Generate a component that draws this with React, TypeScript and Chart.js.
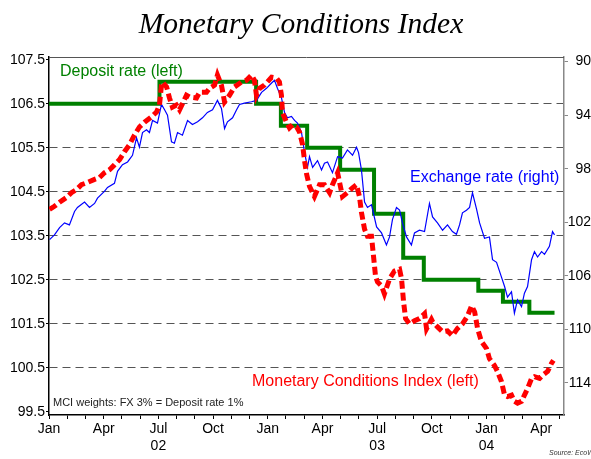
import React, { useEffect, useRef } from "react";
import { Chart, registerables } from "chart.js";

Chart.register(...registerables);

// x = months since Jan 2002
const xTickMonths = Array.from({ length: 29 }, (_, i) => i);
const xTickLabels: Record<number, string[]> = {
  0: ["Jan"], 3: ["Apr"], 6: ["Jul", "02"], 9: ["Oct"],
  12: ["Jan"], 15: ["Apr"], 18: ["Jul", "03"], 21: ["Oct"],
  24: ["Jan", "04"], 27: ["Apr"],
};
const leftTicks = [99.5, 100.5, 101.5, 102.5, 103.5, 104.5, 105.5, 106.5, 107.5];
const rightTicks = [90, 94, 98, 102, 106, 110, 114];

// Deposit rate (left axis, 100 + rate)
const depositMonths = [0, 6.06, 11.36, 12.72, 14.16, 15.97, 17.83, 19.43, 20.56, 23.55, 24.9, 26.35, 27.73];
const depositValues = [106.5, 107, 106.5, 106, 105.5, 105, 104, 103, 102.5, 102.25, 102, 101.75, 101.75];

// Exchange rate (right axis, inverted)
const fxMonths = [0.03,0.30,0.58,0.85,1.12,1.40,1.56,1.95,2.22,2.50,2.66,3.04,3.21,3.59,3.76,4.03,4.31,4.58,4.80,4.96,5.13,5.35,5.51,5.68,5.95,6.17,6.34,6.50,6.72,6.88,7.05,7.32,7.60,7.87,8.15,8.42,8.69,8.97,9.24,9.46,9.63,9.79,10.07,10.29,10.45,10.72,11.11,11.38,11.66,11.93,12.21,12.37,12.53,12.75,12.92,13.08,13.30,13.47,13.63,13.85,14.02,14.18,14.29,14.46,14.73,14.95,15.11,15.28,15.55,15.83,16.10,16.37,16.65,16.87,16.98,17.14,17.31,17.47,17.69,17.97,18.24,18.51,18.68,18.84,19.06,19.23,19.39,19.61,19.88,20.05,20.32,20.60,20.87,21.04,21.31,21.59,21.86,22.13,22.35,22.52,22.68,22.90,23.07,23.23,23.45,23.62,23.89,24.16,24.33,24.55,24.82,24.99,25.15,25.37,25.53,25.70,25.92,26.08,26.25,26.47,26.63,26.80,27.02,27.18,27.45,27.62,27.73];
const fxValues = [103.3,102.95,102.4,102.05,102.2,101.2,100.9,100.5,100.9,100.6,100.2,99.7,99.4,99.1,98.2,97.7,97.5,97.0,95.7,96.4,95.3,95.1,95.3,94.4,94.6,93.2,93.6,94.0,96.0,96.1,95.3,95.5,94.4,94.7,94.5,94.2,93.8,93.6,92.9,93.5,95.0,94.5,94.2,93.6,93.2,93.1,93.0,92.9,92.3,92.0,91.6,91.4,92.0,92.7,93.8,94.2,94.1,94.4,94.6,95.3,96.8,97.9,97.1,97.9,97.4,98.1,97.6,97.5,98.3,97.1,97.2,96.6,97.0,96.4,96.8,98.1,100.5,100.9,100.7,102.35,102.8,103.7,103.1,101.8,100.9,101.1,102.05,103.1,103.7,102.8,102.6,102.7,100.6,101.6,102.05,102.6,102.2,102.7,102.9,102.2,101.3,101.1,100.9,99.8,101.0,102.05,103.2,103.1,104.8,105.0,106.1,106.8,107.6,107.2,108.8,107.8,108.3,107.3,106.8,104.8,104.2,104.6,104.2,104.4,103.8,102.7,102.95];

// Monetary Conditions Index (left axis)
const mciMonths = [0.03,0.30,0.58,0.96,1.23,1.51,1.78,2.11,2.50,2.77,3.04,3.32,3.59,3.87,4.14,4.42,4.69,4.96,5.24,5.62,5.90,6.06,6.17,6.23,6.45,6.61,6.77,6.99,7.16,7.54,7.71,8.09,8.26,8.64,8.81,9.08,9.24,9.46,9.63,9.90,10.18,10.56,10.83,11.11,11.27,11.38,11.55,11.82,12.21,12.48,12.64,12.75,12.81,13.03,13.19,13.36,13.58,13.74,13.91,14.02,14.13,14.29,14.56,14.84,15.11,15.39,15.55,15.83,15.94,16.10,16.37,16.65,16.87,17.03,17.14,17.31,17.47,17.69,17.80,17.91,18.02,18.24,18.40,18.68,18.95,19.23,19.34,19.45,19.56,19.77,20.05,20.32,20.60,20.71,20.98,21.04,21.31,21.59,21.86,22.13,22.40,22.68,22.96,23.18,23.35,23.51,23.72,24.00,24.16,24.44,24.60,24.82,24.99,25.15,25.37,25.53,25.70,25.92,26.08,26.25,26.47,26.63,26.91,27.07,27.35,27.56,27.67];
const mciValues = [104.10,104.17,104.26,104.37,104.48,104.55,104.66,104.71,104.78,104.82,104.93,105.00,105.11,105.23,105.41,105.57,105.79,105.97,106.08,106.20,106.31,106.47,106.92,106.99,106.88,106.63,106.42,106.47,106.36,106.69,106.65,106.63,106.76,106.76,106.85,106.92,107.15,106.92,106.54,106.69,106.88,106.99,107.03,107.15,107.03,106.69,106.85,106.92,107.10,107.08,106.99,106.69,106.29,106.08,105.95,106.02,105.97,105.86,105.57,105.2,104.9,104.62,104.39,104.66,104.66,104.48,104.66,104.93,104.71,104.39,104.48,104.59,104.66,104.39,104.03,103.65,103.49,103.49,103.04,102.59,102.45,102.36,102.18,102.52,102.70,102.74,102.52,102.00,101.62,101.50,101.57,101.62,101.73,101.39,101.6,101.55,101.43,101.32,101.34,101.23,101.39,101.50,101.68,101.91,101.77,101.39,101.10,100.94,100.71,100.55,100.42,100.19,99.88,99.85,99.88,99.74,99.70,99.74,99.88,100.03,100.26,100.30,100.26,100.33,100.42,100.60,100.67];

const toXY = (xs: number[], ys: number[]) => xs.map((x, i) => ({ x, y: ys[i] }));

const textPlugin = {
  id: "texts",
  afterDraw(chart: any) {
    const { ctx, chartArea } = chart;
    ctx.save();
    // top border
    ctx.strokeStyle = "#555";
    ctx.lineWidth = 1;
    ctx.setLineDash([]);
    ctx.beginPath();
    ctx.moveTo(chartArea.left, chartArea.top + 0.5);
    ctx.lineTo(chartArea.right, chartArea.top + 0.5);
    ctx.stroke();

    ctx.textBaseline = "alphabetic";
    ctx.textAlign = "center";
    ctx.fillStyle = "#000";
    ctx.font = 'italic 29.5px "Liberation Serif", "Times New Roman", serif';
    ctx.fillText("Monetary Conditions Index", 301, 33);

    ctx.textAlign = "left";
    ctx.font = '16px "Liberation Sans", Arial, sans-serif';
    ctx.fillStyle = "#008000";
    ctx.fillText("Deposit rate (left)", 60, 76);
    ctx.fillStyle = "#0000ff";
    ctx.fillText("Exchange rate (right)", 410, 182);
    ctx.fillStyle = "#ff0000";
    ctx.fillText("Monetary Conditions Index (left)", 252, 386);

    ctx.fillStyle = "#222";
    ctx.font = '11px "Liberation Sans", Arial, sans-serif';
    ctx.fillText("MCI weights: FX 3% = Deposit rate 1%", 53, 406);

    ctx.fillStyle = "#333";
    ctx.font = 'italic 7px "Liberation Sans", Arial, sans-serif';
    ctx.fillText("Source: EcoWin", 549, 455);
    ctx.restore();
  },
};

export default function App() {
  const ref = useRef<HTMLCanvasElement | null>(null);

  useEffect(() => {
    document.body.style.margin = "0";
    const canvas = ref.current;
    if (!canvas) return;
    Chart.defaults.font.family = '"Liberation Sans", Arial, sans-serif';
    const chart = new Chart(canvas, {
      type: "line",
      data: {
        datasets: [
          {
            label: "Monetary Conditions Index (left)",
            data: toXY(mciMonths, mciValues),
            yAxisID: "y",
            borderColor: "#ff0000",
            borderWidth: 5,
            borderDash: [8, 4],
            borderCapStyle: "butt",
            pointRadius: 0,
            order: 0,
          },
          {
            label: "Exchange rate (right)",
            data: toXY(fxMonths, fxValues),
            yAxisID: "y1",
            borderColor: "#0000ff",
            borderWidth: 1.2,
            pointRadius: 0,
            order: 1,
          },
          {
            label: "Deposit rate (left)",
            data: toXY(depositMonths, depositValues),
            yAxisID: "y",
            borderColor: "#008000",
            borderWidth: 4,
            stepped: "before",
            pointRadius: 0,
            order: 2,
          },
        ],
      },
      options: {
        animation: false,
        responsive: false,
        layout: { padding: { top: 57, left: 0, right: 0, bottom: 0 } },
        plugins: { legend: { display: false }, tooltip: { enabled: false } },
        scales: {
          x: {
            type: "linear",
            min: 0,
            max: 28.25,
            afterBuildTicks: (s: any) => {
              s.ticks = xTickMonths.map((v) => ({ value: v }));
            },
            afterFit: (s: any) => {
              s.height = 44;
            },
            ticks: {
              autoSkip: false,
              maxRotation: 0,
              padding: 2,
              color: "#000",
              font: { size: 14 },
              callback: (v: any) => xTickLabels[Math.round(v)] || "",
            },
            grid: {
              drawOnChartArea: false,
              drawTicks: true,
              tickLength: 4,
              tickColor: "#000",
            },
            border: { display: true, color: "#000", width: 1.5 },
          },
          y: {
            type: "linear",
            position: "left",
            min: 99.43,
            max: 107.56,
            afterBuildTicks: (s: any) => {
              s.ticks = leftTicks.map((v) => ({ value: v }));
            },
            afterFit: (s: any) => {
              s.width = 49;
            },
            ticks: {
              padding: 1,
              color: "#000",
              font: { size: 14 },
              callback: (v: any) => Number(v).toFixed(1),
            },
            grid: {
              color: (c: any) =>
                c.tick && (c.tick.value === 99.5 || c.tick.value === 107.5) ? "rgba(0,0,0,0)" : "#555",
              lineWidth: 1,
              drawTicks: true,
              tickLength: 3,
              tickColor: "#000",
              tickBorderDash: [],
            },
            border: { display: true, color: "#000", width: 1.5, dash: [8, 5] },
          },
          y1: {
            type: "linear",
            position: "right",
            reverse: true,
            min: 89.66,
            max: 116.4,
            afterBuildTicks: (s: any) => {
              s.ticks = rightTicks.map((v) => ({ value: v }));
            },
            afterFit: (s: any) => {
              s.width = 27;
            },
            ticks: {
              crossAlign: "far",
              padding: 2,
              color: "#000",
              font: { size: 14 },
            },
            grid: {
              drawOnChartArea: false,
              drawTicks: true,
              tickLength: 4,
              tickColor: "#888",
            },
            border: { display: true, color: "#888", width: 1.5 },
          },
        },
      },
      plugins: [textPlugin],
    } as any);
    return () => chart.destroy();
  }, []);

  return (
    <div style={{ position: "absolute", left: 0, top: 0, width: 591, height: 459, background: "#fff" }}>
      <canvas ref={ref} width={591} height={459} />
    </div>
  );
}
